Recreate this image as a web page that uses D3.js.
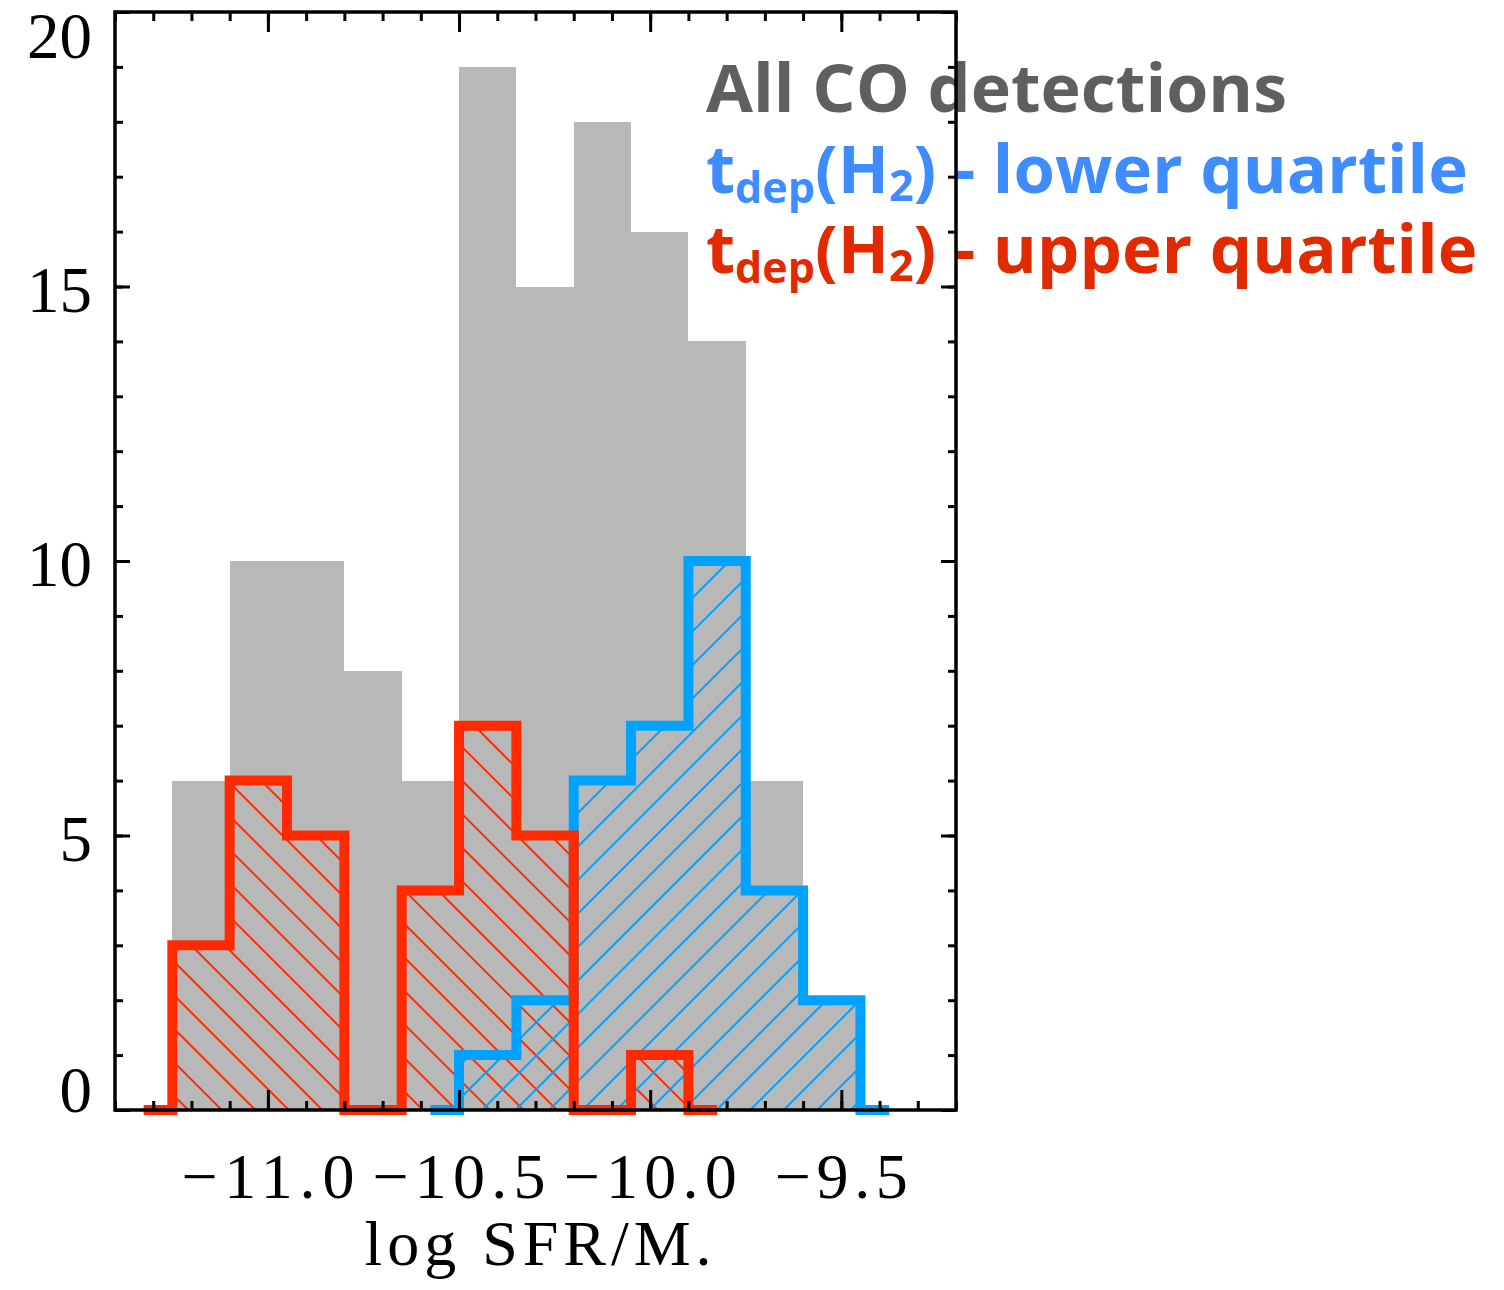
<!DOCTYPE html>
<html>
<head>
<meta charset="utf-8">
<script src="https://cdn.jsdelivr.net/npm/d3@7"></script>
<style>
  html, body { margin: 0; padding: 0; background: #ffffff; }
  svg { display: block; }
</style>
</head>
<body>
<svg id="chart" width="1504" height="1290"></svg>
<script>
// ---------------- DATA ----------------
// bin edges (log SFR/M*), bin width 0.15 dex
const allEdges   = [-11.25, -11.1, -10.95, -10.8, -10.65, -10.5, -10.35, -10.2, -10.05, -9.9, -9.75, -9.6, -9.45];
const allCO      = [6, 10, 10, 8, 6, 19, 15, 18, 16, 14, 6, 2];

const upperEdges = [-11.25, -11.1, -10.95, -10.8, -10.65, -10.5, -10.35, -10.2, -10.05, -9.9];
const upperQuart = [3, 6, 5, 0, 4, 7, 5, 0, 1];

const lowerEdges = [-10.5, -10.35, -10.2, -10.05, -9.9, -9.75, -9.6, -9.45];
const lowerQuart = [1, 2, 6, 7, 10, 4, 2];

const xMajorTicks  = [-11.0, -10.5, -10.0, -9.5];
const xTickLabels  = ["\u221211.0", "\u221210.5", "\u221210.0", "\u22129.5"];
const yMajorTicks  = [0, 5, 10, 15, 20];
const yTickLabels  = ["0", "5", "10", "15", "20"];

const xTitle = "log SFR/M";
const legendAll = "All CO detections";

// ---------------- LAYOUT ----------------
const svg = d3.select("#chart");
const L = 115, R = 956, T = 12, B = 1110;
const x = d3.scaleLinear().domain([-11.4, -9.2]).range([L, R]);
const y = d3.scaleLinear().domain([0, 20]).range([B, T]);

const GRAY = "#b8b8b8";
const RED = "#ff2a00";
const BLUE = "#00a2ff";
const RED_TXT = "#e22a00";
const BLUE_TXT = "#3f8cff";
const GRAY_TXT = "#5f5f5f";

// hatch patterns
const defs = svg.append("defs");
function hatch(id, color, angle) {
  const p = defs.append("pattern")
    .attr("id", id)
    .attr("patternUnits", "userSpaceOnUse")
    .attr("width", 23.7).attr("height", 20)
    .attr("patternTransform", `rotate(${angle})`);
  p.append("line")
    .attr("x1", 11.85).attr("y1", -2).attr("x2", 11.85).attr("y2", 22)
    .attr("stroke", color).attr("stroke-width", 2);
}
hatch("hatchRed", RED, -45);
hatch("hatchBlue", BLUE, 45);

// gray bars
svg.append("g").selectAll("rect")
  .data(allCO)
  .join("rect")
  .attr("x", (d, i) => x(allEdges[i]))
  .attr("width", (d, i) => x(allEdges[i + 1]) - x(allEdges[i]))
  .attr("y", d => y(d))
  .attr("height", d => y(0) - y(d))
  .attr("fill", GRAY)
  .attr("shape-rendering", "crispEdges");

// hatched areas
function areaPts(edges, vals) {
  const pts = vals.map((v, i) => [edges[i], v]);
  pts.push([edges[edges.length - 1], vals[vals.length - 1]]);
  return pts;
}
const area = d3.area()
  .x(d => x(d[0])).y0(y(0)).y1(d => y(d[1]))
  .curve(d3.curveStepAfter);

svg.append("path").attr("d", area(areaPts(upperEdges, upperQuart)))
  .attr("fill", "url(#hatchRed)");
svg.append("path").attr("d", area(areaPts(lowerEdges, lowerQuart)))
  .attr("fill", "url(#hatchBlue)");

// step outlines (IDL psym=10 style, extending half a bin at zero on each side)
function stepPts(edges, vals) {
  const half = (edges[1] - edges[0]) / 2;
  const pts = [[edges[0] - half, 0]];
  vals.forEach((v, i) => pts.push([edges[i], v]));
  pts.push([edges[edges.length - 1], 0]);
  pts.push([edges[edges.length - 1] + half, 0]);
  return pts;
}
const line = d3.line().x(d => x(d[0])).y(d => y(d[1])).curve(d3.curveStepAfter);

svg.append("path").attr("d", line(stepPts(lowerEdges, lowerQuart)))
  .attr("fill", "none").attr("stroke", BLUE).attr("stroke-width", 10)
  .attr("stroke-linejoin", "miter").attr("stroke-linecap", "butt");
svg.append("path").attr("d", line(stepPts(upperEdges, upperQuart)))
  .attr("fill", "none").attr("stroke", RED).attr("stroke-width", 10)
  .attr("stroke-linejoin", "miter").attr("stroke-linecap", "butt");

// ---------------- LEGEND ----------------
const lg = svg.append("g")
  .attr("font-family", "'Open Sans', 'Liberation Sans', sans-serif")
  .attr("font-weight", 700);

lg.append("text")
  .attr("x", 706).attr("y", 112)
  .attr("font-size", 67)
  .attr("fill", GRAY_TXT)
  .attr("textLength", 581).attr("lengthAdjust", "spacingAndGlyphs")
  .text(legendAll);

function tdepLine(yy, color, word) {
  const t = lg.append("text").attr("x", 706).attr("y", yy)
    .attr("font-size", 67).attr("fill", color);
  t.append("tspan").text("t");
  t.append("tspan").attr("font-size", 43).attr("dy", 10).text("dep");
  t.append("tspan").attr("dy", -10).text("(H");
  t.append("tspan").attr("font-size", 43).attr("dy", 8).text("2");
  t.append("tspan").attr("dy", -8).text(")");
  t.append("tspan").attr("letter-spacing", 0.1).text(" - " + word + " quartile");
}
tdepLine(193, BLUE_TXT, "lower");
tdepLine(273, RED_TXT, "upper");

// ---------------- AXES ----------------
const axG = svg.append("g");
const tickStyle = g => {
  g.select(".domain").remove();
  g.selectAll("line").attr("stroke", "#000").attr("stroke-width", 3);
};

// x minor & major, bottom and top (inward)
axG.append("g").attr("transform", `translate(0,${B})`)
  .call(d3.axisBottom(x).tickValues(x.ticks(22)).tickSize(-9).tickFormat(""))
  .call(tickStyle);
axG.append("g").attr("transform", `translate(0,${B})`)
  .call(d3.axisBottom(x).tickValues(xMajorTicks).tickSize(-20).tickFormat(""))
  .call(tickStyle);
axG.append("g").attr("transform", `translate(0,${T})`)
  .call(d3.axisTop(x).tickValues(x.ticks(22)).tickSize(-9).tickFormat(""))
  .call(tickStyle);
axG.append("g").attr("transform", `translate(0,${T})`)
  .call(d3.axisTop(x).tickValues(xMajorTicks).tickSize(-20).tickFormat(""))
  .call(tickStyle);

// y minor & major, left and right (inward)
axG.append("g").attr("transform", `translate(${L},0)`)
  .call(d3.axisLeft(y).tickValues(y.ticks(20)).tickSize(-8).tickFormat(""))
  .call(tickStyle);
axG.append("g").attr("transform", `translate(${L},0)`)
  .call(d3.axisLeft(y).tickValues(yMajorTicks).tickSize(-15).tickFormat(""))
  .call(tickStyle);
axG.append("g").attr("transform", `translate(${R},0)`)
  .call(d3.axisRight(y).tickValues(y.ticks(20)).tickSize(-8).tickFormat(""))
  .call(tickStyle);
axG.append("g").attr("transform", `translate(${R},0)`)
  .call(d3.axisRight(y).tickValues(yMajorTicks).tickSize(-15).tickFormat(""))
  .call(tickStyle);

// frame
axG.append("rect")
  .attr("x", L).attr("y", T).attr("width", R - L).attr("height", B - T)
  .attr("fill", "none").attr("stroke", "#000").attr("stroke-width", 3.5);

// tick labels
const serif = "'Liberation Serif', 'DejaVu Serif', serif";
svg.append("g").selectAll("text")
  .data(xMajorTicks)
  .join("text")
  .attr("x", d => x(d)).attr("y", 1198)
  .attr("text-anchor", "middle")
  .attr("font-family", serif).attr("font-size", 64)
  .attr("textLength", (d, i) => xTickLabels[i].length === 5 ? 173 : 133)
  .attr("lengthAdjust", "spacing")
  .text((d, i) => xTickLabels[i]);

svg.append("g").selectAll("text")
  .data(yMajorTicks)
  .join("text")
  .attr("x", 92)
  .attr("y", d => Math.min(Math.max(y(d) + 25, 58), 1112))
  .attr("text-anchor", "end")
  .attr("font-family", serif).attr("font-size", 65)
  .text((d, i) => yTickLabels[i]);

// x title
const xt = svg.append("text")
  .attr("x", 538).attr("y", 1265)
  .attr("text-anchor", "middle")
  .attr("font-family", serif).attr("font-size", 64)
  .attr("textLength", 347).attr("lengthAdjust", "spacing");
xt.append("tspan").text(xTitle);
xt.append("tspan").text(".");
</script>
</body>
</html>
